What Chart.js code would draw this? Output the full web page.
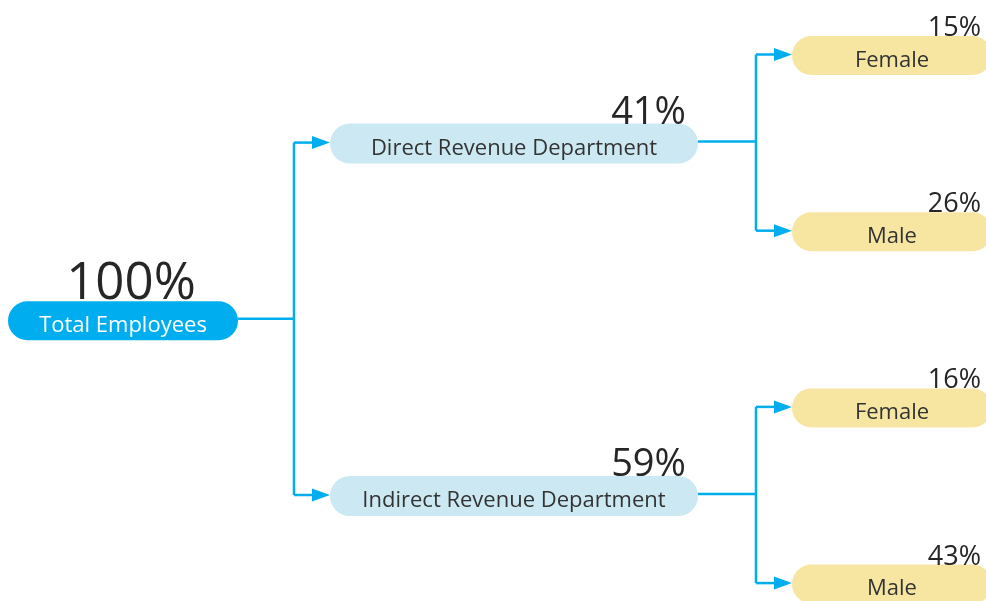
<!DOCTYPE html>
<html>
<head>
<meta charset="utf-8">
<script src="https://cdn.jsdelivr.net/npm/chart.js@4"></script>
<style>
  html,body{margin:0;padding:0;background:#fff;overflow:hidden;}
  #c{display:block;}
</style>
</head>
<body>
<canvas id="c" width="986" height="601"></canvas>
<script>
// ---- data ----
const nodeLabels  = ["Total Employees", "Direct Revenue Department", "Indirect Revenue Department", "Female", "Male", "Female", "Male"];
const nodeShares  = [100, 41, 59, 15, 26, 16, 43];
const nodeParents = [-1, 0, 0, 1, 1, 2, 2];

// ---- styles per level ----
const levelStyle = [
  {w: 230, h: 39, dx: 0,  dy: 1, fill: "#00AEEF", text: "#FFFFFF", font: 22, pctFont: 51, pctAlign: "center", pctDx: 8,   pctDy: -2},
  {w: 368, h: 40, dx: 6,  dy: 0, fill: "#CCE9F3", text: "#333333", font: 22, pctFont: 38, pctAlign: "right",  pctDx: -12, pctDy: 0},
  {w: 200, h: 39, dx: -1, dy: 0, fill: "#F6E6A2", text: "#333333", font: 22, pctFont: 27, pctAlign: "right",  pctDx: -11, pctDy: 0}
];
const lineColor = "#00AEEF";
const FONT = "'Open Sans', 'Noto Sans', sans-serif";

// ---- derive tree layout (level + row) from structure ----
const levels = nodeParents.map((p, i) => { let l = 0, q = p; while (q >= 0) { l++; q = nodeParents[q]; } return l; });
const children = nodeLabels.map((_, i) => nodeParents.map((p, j) => p === i ? j : -1).filter(j => j >= 0));
const rows = new Array(nodeLabels.length);
let leafCount = 0;
function place(i) {
  if (children[i].length === 0) { rows[i] = leafCount++; return rows[i]; }
  const r = children[i].map(place);
  rows[i] = (r[0] + r[r.length - 1]) / 2;
  return rows[i];
}
place(0);
const points = nodeLabels.map((_, i) => ({x: levels[i], y: rows[i]}));

function pill(ctx, x, y, w, h) {
  const r = h / 2;
  ctx.beginPath();
  ctx.moveTo(x + r, y);
  ctx.lineTo(x + w - r, y);
  ctx.arc(x + w - r, y + r, r, -Math.PI / 2, Math.PI / 2);
  ctx.lineTo(x + r, y + h);
  ctx.arc(x + r, y + r, r, Math.PI / 2, Math.PI * 1.5);
  ctx.closePath();
}

const treePlugin = {
  id: "tree",
  afterDatasetsDraw(chart) {
    const ctx = chart.ctx;
    const meta = chart.getDatasetMeta(0);
    const box = nodeLabels.map((_, i) => {
      const el = meta.data[i];
      const s = levelStyle[levels[i]];
      const cx = el.x + s.dx;
      const cy = el.y + s.dy;
      return {cx, cy, left: cx - s.w / 2, right: cx + s.w / 2, top: cy - s.h / 2, s};
    });
    // connectors
    ctx.save();
    ctx.strokeStyle = lineColor;
    ctx.fillStyle = lineColor;
    ctx.lineWidth = 2.5;
    nodeLabels.forEach((_, i) => {
      const ch = children[i];
      if (!ch.length) return;
      const p = box[i];
      const elbow = box[ch[0]].left - 36;
      const py = p.cy - 2;
      ctx.beginPath();
      ctx.moveTo(p.right, py);
      ctx.lineTo(elbow, py);
      ctx.stroke();
      const ys = ch.map(c => box[c].cy - 1);
      ctx.beginPath();
      ctx.moveTo(elbow, Math.min(...ys));
      ctx.lineTo(elbow, Math.max(...ys));
      ctx.stroke();
      ch.forEach((c, k) => {
        const b = box[c];
        const y = ys[k];
        ctx.beginPath();
        ctx.moveTo(elbow, y);
        ctx.lineTo(b.left - 16, y);
        ctx.stroke();
        ctx.beginPath();
        ctx.moveTo(b.left, y);
        ctx.lineTo(b.left - 18, y - 6.5);
        ctx.lineTo(b.left - 18, y + 6.5);
        ctx.closePath();
        ctx.fill();
      });
    });
    // nodes
    nodeLabels.forEach((label, i) => {
      const b = box[i], s = b.s;
      ctx.fillStyle = s.fill;
      pill(ctx, b.left, b.top, s.w, s.h);
      ctx.fill();
      ctx.fillStyle = s.text;
      ctx.font = s.font + "px " + FONT;
      ctx.textAlign = "center";
      ctx.textBaseline = "alphabetic";
      ctx.fillText(label, b.cx, b.cy + 11);
      // percentage
      ctx.fillStyle = "#262626";
      ctx.font = s.pctFont + "px " + FONT;
      ctx.textAlign = s.pctAlign;
      const px = s.pctAlign === "center" ? b.cx + s.pctDx : b.right + s.pctDx;
      ctx.fillText(nodeShares[i] + "%", px, b.top + s.pctDy);
    });
    ctx.restore();
  }
};

new Chart(document.getElementById("c"), {
  type: "scatter",
  data: {datasets: [{data: points, pointRadius: 0, pointHoverRadius: 0, showLine: false}]},
  options: {
    responsive: false,
    devicePixelRatio: 1,
    animation: false,
    layout: {padding: 0},
    events: [],
    plugins: {legend: {display: false}, tooltip: {enabled: false}},
    scales: {
      x: {type: "linear", display: false, min: -0.3195, max: 2.2416},
      y: {type: "linear", display: false, reverse: true, min: -0.315, max: 3.096}
    }
  },
  plugins: [treePlugin]
});
</script>
</body>
</html>
